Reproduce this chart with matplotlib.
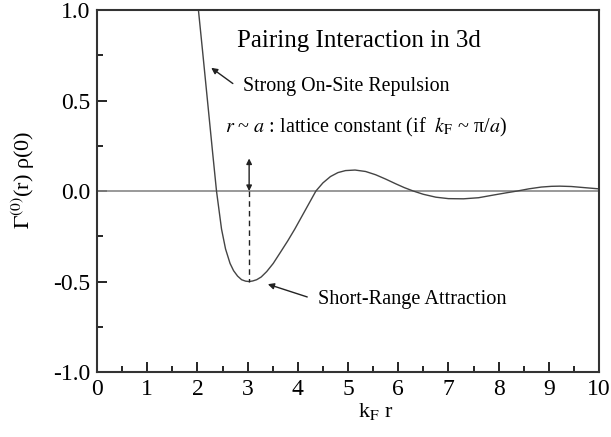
import numpy as np
import matplotlib.pyplot as plt
from matplotlib.ticker import MultipleLocator

plt.rcParams['font.family'] = ['Liberation Serif', 'DejaVu Serif']
plt.rcParams['mathtext.fontset'] = 'stix'

# pairing interaction Gamma(r) rho(0) vs kF r
kr = [2.02, 2.10, 2.20, 2.30, 2.38, 2.48, 2.56, 2.65, 2.72, 2.80, 2.88, 2.96,
      3.03, 3.10, 3.18, 3.27, 3.38, 3.51, 3.65, 3.80, 3.94, 4.08, 4.22, 4.36,
      4.50, 4.65, 4.80, 4.95, 5.14, 5.35, 5.55, 5.75, 5.95, 6.12, 6.30, 6.50,
      6.75, 7.00, 7.30, 7.60, 7.90, 8.15, 8.37, 8.60, 8.85, 9.05, 9.22, 9.45,
      9.70, 10.0]
gamma = [1.00, 0.78, 0.50, 0.22, 0.00, -0.21, -0.32, -0.40, -0.44, -0.47,
         -0.49, -0.498, -0.50, -0.497, -0.49, -0.475, -0.445, -0.40, -0.34,
         -0.275, -0.21, -0.14, -0.07, 0.00, 0.045, 0.080, 0.102, 0.113, 0.116,
         0.108, 0.090, 0.066, 0.040, 0.019, 0.00, -0.018, -0.034, -0.042,
         -0.043, -0.037, -0.022, -0.010, 0.00, 0.012, 0.022, 0.026, 0.027,
         0.025, 0.019, 0.012]

fig = plt.figure(figsize=(6.11, 4.37), dpi=100)
ax = fig.add_axes([0.1588, 0.1487, 0.8216, 0.8283])

ax.axhline(0, color='#888888', lw=1.2)
ax.plot(kr, gamma, color='#444444', lw=1.0)

ax.set_xlim(0, 10)
ax.set_ylim(-1, 1)
ax.xaxis.set_major_locator(MultipleLocator(1))
ax.xaxis.set_minor_locator(MultipleLocator(0.5))
ax.yaxis.set_major_locator(MultipleLocator(0.5))
ax.yaxis.set_minor_locator(MultipleLocator(0.25))
ax.yaxis.set_major_formatter(plt.FuncFormatter(lambda v, p: '%.1f' % v))
ax.tick_params(which='both', direction='in', top=False, right=False,
               labelsize=17, width=1.2)
ax.tick_params(which='major', length=7, pad=5)
ax.tick_params(which='minor', length=4)
for s in ax.spines.values():
    s.set_linewidth(1.5)
    s.set_color('#333333')

ax.set_xlabel(r'k$_{\rm F}$ r', fontsize=16)
ax.set_ylabel(r'$\Gamma^{(0)}$(r) ρ(0)', fontsize=16)
ax.xaxis.set_label_coords(0.555, -0.08)
ax.yaxis.set_label_coords(-0.12, 0.53)

ax.text(2.79, 0.83, 'Pairing Interaction in 3d', fontsize=18, va='center')
ax.text(2.91, 0.58, 'Strong On-Site Repulsion', fontsize=14.4, va='center')
ax.annotate('', xy=(2.23, 0.69), xytext=(2.75, 0.585),
            arrowprops=dict(arrowstyle='-|>', lw=1, color='#222222',
                            mutation_scale=9))
ax.text(2.55, 0.35, r'$r$ ~ $a$ : lattice constant (if  $k_{\rm F}$ ~ π/$a$)',
        fontsize=14.5, va='center')
ax.annotate('', xy=(3.03, 0.0), xytext=(3.03, 0.18),
            arrowprops=dict(arrowstyle='<|-|>', lw=1, color='#222222',
                            mutation_scale=8, shrinkA=0, shrinkB=0))
ax.plot([3.03, 3.03], [0, -0.5], ls=(0, (4, 3)), color='#222222', lw=1)
ax.text(4.40, -0.60, 'Short-Range Attraction', fontsize=14.6, va='center')
ax.annotate('', xy=(3.35, -0.51), xytext=(4.24, -0.59),
            arrowprops=dict(arrowstyle='-|>', lw=1, color='#222222',
                            mutation_scale=9))

fig.savefig('out.png', dpi=100)
